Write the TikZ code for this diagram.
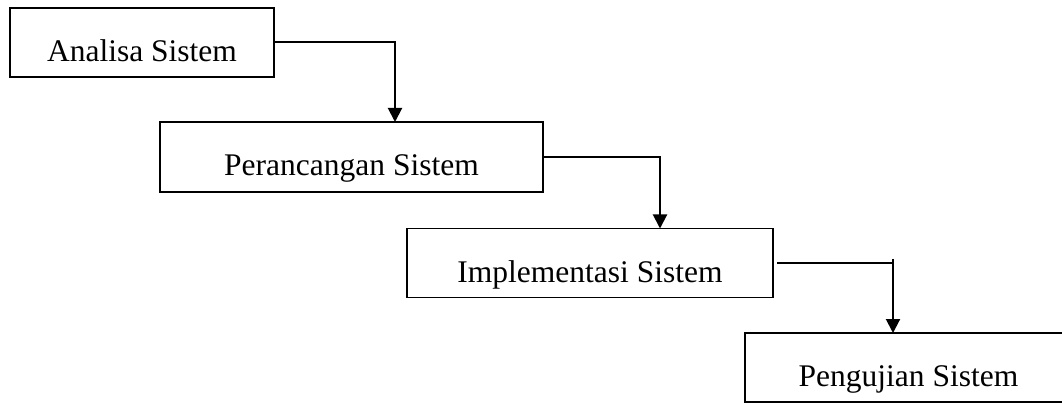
\documentclass[tikz,border=0pt]{standalone}
\usepackage{fontspec}
\setmainfont{Liberation Serif}
\usetikzlibrary{arrows.meta}
\begin{document}
\begin{tikzpicture}[x=1pt,y=-1pt,
  stepbox/.style={draw=black, line width=1.5pt, rectangle, inner sep=0pt,
    text height=40pt, text depth=2pt, font=\fontsize{31.5}{36}\selectfont},
  flow/.style={draw=black, line width=2pt, -{Triangle[width=14pt,length=14pt]}},
  plain/.style={draw=black, line width=2pt}]
\useasboundingbox (0,0) rectangle (1062,403);
\clip (0,0) rectangle (1062,403);
\node[stepbox, minimum width=264pt, minimum height=69pt] (a) at (142,42.5) {Analisa Sistem};
\node[stepbox, minimum width=383pt, minimum height=70pt] (b) at (351.5,157) {Perancangan Sistem};
\node[stepbox, minimum width=366pt, minimum height=69pt] (c) at (590,263) {Implementasi Sistem};
\node[stepbox, minimum width=327pt, minimum height=69pt] (d) at (908.5,367.5) {Pengujian Sistem};
\coordinate (t1) at (395,122);
\coordinate (t2) at (660,228.5);
\coordinate (t3) at (893,333);
\coordinate (s3) at (777,263);
\coordinate (k3) at (893,259);
\draw[flow] (a.east) -| (t1);
\draw[flow] (b.east) -| (t2);
\draw[plain, line width=1.6pt] (s3) -- (t3 |- s3);
\draw[flow] (k3) -- (t3);
\end{tikzpicture}
\end{document}
